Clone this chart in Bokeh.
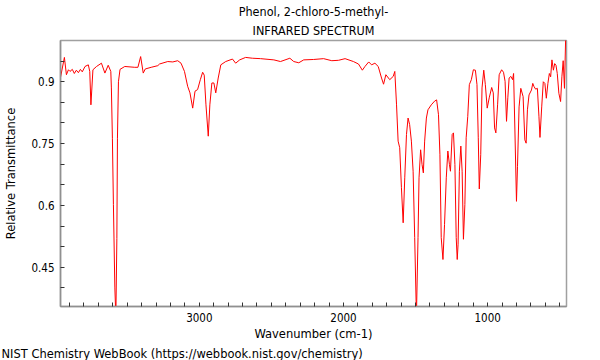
from bokeh.plotting import figure
from bokeh.models import Range1d, FixedTicker, Title
from bokeh.embed import file_html
from bokeh.resources import INLINE

# Spectrum (wavenumber in cm-1, relative transmittance)
wavenumber = [3966, 3936, 3922, 3908, 3897, 3881, 3867, 3853, 3839, 3825,
              3812, 3793, 3770, 3760, 3752, 3738, 3713, 3679, 3655, 3632,
              3614, 3610, 3603, 3596, 3586, 3579, 3572, 3568, 3561, 3550,
              3517, 3448, 3426, 3407, 3389, 3375, 3334, 3288, 3276, 3219,
              3184, 3150, 3127, 3103, 3081, 3065, 3046, 3030, 3012, 2993,
              2977, 2966, 2954, 2938, 2927, 2913, 2899, 2886, 2869, 2851,
              2817, 2770, 2748, 2720, 2679, 2632, 2575, 2483, 2437, 2372,
              2345, 2310, 2276, 2207, 2138, 2081, 2034, 1989, 1931, 1896,
              1869, 1851, 1825, 1805, 1782, 1759, 1736, 1722, 1706, 1679,
              1655, 1644, 1632, 1621, 1610, 1598, 1586, 1575, 1563, 1552,
              1541, 1529, 1517, 1506, 1494, 1483, 1476, 1465, 1455, 1446,
              1437, 1425, 1414, 1391, 1368, 1354, 1341, 1331, 1322, 1310,
              1299, 1287, 1276, 1265, 1258, 1246, 1237, 1227, 1218, 1211,
              1205, 1196, 1186, 1177, 1168, 1158, 1149, 1138, 1127, 1113,
              1099, 1085, 1074, 1065, 1058, 1048, 1039, 1027, 1016, 1003,
              989, 972, 961, 952, 943, 931, 920, 903, 890, 879,
              869, 860, 851, 839, 827, 820, 811, 800, 793, 782,
              770, 754, 742, 733, 724, 713, 696, 687, 678, 667,
              655, 644, 637, 625, 614, 603, 593, 582, 572, 563,
              554, 544, 535, 526, 517, 506, 494, 485, 476, 467,
              456]

transmittance = [0.905, 0.959, 0.917, 0.929, 0.925, 0.930, 0.920, 0.928, 0.922, 0.930,
                 0.924, 0.937, 0.941, 0.925, 0.844, 0.929, 0.937, 0.945, 0.921, 0.940,
                 0.925, 0.885, 0.763, 0.602, 0.400, 0.330, 0.520, 0.763, 0.900, 0.930,
                 0.937, 0.935, 0.935, 0.961, 0.921, 0.931, 0.935, 0.939, 0.943, 0.949,
                 0.948, 0.951, 0.945, 0.925, 0.889, 0.873, 0.836, 0.877, 0.881, 0.905,
                 0.923, 0.916, 0.844, 0.768, 0.844, 0.897, 0.897, 0.873, 0.909, 0.941,
                 0.949, 0.955, 0.945, 0.953, 0.959, 0.957, 0.956, 0.953, 0.949, 0.957,
                 0.949, 0.946, 0.953, 0.954, 0.956, 0.951, 0.952, 0.956, 0.949, 0.943,
                 0.928, 0.937, 0.948, 0.941, 0.945, 0.937, 0.909, 0.894, 0.917, 0.905,
                 0.913, 0.925, 0.844, 0.756, 0.740, 0.643, 0.558, 0.667, 0.772, 0.812,
                 0.796, 0.756, 0.683, 0.522, 0.330, 0.522, 0.667, 0.735, 0.699, 0.679,
                 0.756, 0.812, 0.832, 0.844, 0.853, 0.856, 0.820, 0.723, 0.522, 0.469,
                 0.554, 0.667, 0.732, 0.699, 0.683, 0.772, 0.776, 0.699, 0.522, 0.469,
                 0.506, 0.683, 0.744, 0.683, 0.518, 0.602, 0.764, 0.816, 0.893, 0.905,
                 0.929, 0.928, 0.893, 0.764, 0.640, 0.723, 0.885, 0.928, 0.893, 0.836,
                 0.861, 0.886, 0.873, 0.788, 0.776, 0.844, 0.917, 0.929, 0.923, 0.901,
                 0.804, 0.861, 0.909, 0.913, 0.905, 0.920, 0.783, 0.610, 0.694, 0.839,
                 0.884, 0.864, 0.759, 0.751, 0.832, 0.868, 0.880, 0.896, 0.888, 0.882,
                 0.884, 0.815, 0.765, 0.839, 0.900, 0.896, 0.860, 0.896, 0.920, 0.912,
                 0.953, 0.928, 0.944, 0.940, 0.920, 0.872, 0.852, 0.912, 0.951, 0.884,
                 1.050]

x_ticks = [1000, 2000, 3000]
x_minor_ticks = [500, 600, 700, 800, 900, 1100, 1200, 1300, 1400, 1500, 1600, 1700, 1800, 1900,
                 2100, 2200, 2300, 2400, 2500, 2600, 2700, 2800, 2900, 3100, 3200, 3300, 3400,
                 3500, 3600, 3700, 3800, 3900]
y_ticks = [0.45, 0.6, 0.75, 0.9]
y_tick_labels = ["0.45", "0.6", "0.75", "0.9"]
y_minor_ticks = [0.4, 0.5, 0.55, 0.65, 0.7, 0.8, 0.85, 0.95]

title_line1 = "Phenol, 2-chloro-5-methyl-"
title_line2 = "INFRARED SPECTRUM"
credit = "NIST Chemistry WebBook (https://webbook.nist.gov/chemistry)"

FONT = "DejaVu Sans Condensed"

p = figure(width=600, height=360,
           x_range=Range1d(3963, 453), y_range=Range1d(0.355, 1.0),
           output_backend="svg", toolbar_location=None, title_location=None,
           min_border_left=57, min_border_right=34,
           min_border_top=40, min_border_bottom=53)

p.line(wavenumber, transmittance, line_color="#ff0000", line_width=1)

p.grid.visible = False
p.outline_line_color = "#a0a0a0"
p.outline_line_width = 1.5
p.background_fill_color = "white"
p.border_fill_color = "white"

xa = p.xaxis[0]
xa.ticker = FixedTicker(ticks=x_ticks, minor_ticks=x_minor_ticks)
xa.axis_label = "Wavenumber (cm-1)"
ya = p.yaxis[0]
ya.ticker = FixedTicker(ticks=y_ticks, minor_ticks=y_minor_ticks)
ya.major_label_overrides = {t: s for t, s in zip(y_ticks, y_tick_labels)}
ya.axis_label = "Relative Transmittance"

for ax in (xa, ya):
    ax.axis_line_color = "#909090"
    ax.axis_line_width = 1.5
    ax.major_tick_in = 4
    ax.major_tick_out = 0
    ax.minor_tick_in = 4
    ax.minor_tick_out = 0
    ax.major_tick_line_color = "#333333"
    ax.minor_tick_line_color = "#333333"
    ax.major_label_text_font = FONT
    ax.major_label_text_font_size = "11.5px"
    ax.major_label_text_color = "black"
    ax.axis_label_text_font = FONT
    ax.axis_label_text_font_size = "12.8px"
    ax.axis_label_text_font_style = "normal"
    ax.axis_label_text_color = "black"

xa.major_label_standoff = 6
xa.axis_label_standoff = 1
ya.major_label_standoff = 6
ya.axis_label_standoff = 10

# title lines: the first added sits closest to the frame
p.add_layout(Title(text=title_line2, align="center", standoff=5,
                   text_font=FONT, text_font_size="12.5px",
                   text_font_style="normal", text_color="black"), "above")
p.add_layout(Title(text=title_line1, align="center", standoff=0,
                   text_font=FONT, text_font_size="12.5px",
                   text_font_style="normal", text_color="black"), "above")
p.add_layout(Title(text=credit, align="left", offset=-59, standoff=0,
                   text_font=FONT, text_font_size="12.75px",
                   text_font_style="normal", text_color="black"), "below")

open("out.html", "w").write(file_html(p, INLINE))
